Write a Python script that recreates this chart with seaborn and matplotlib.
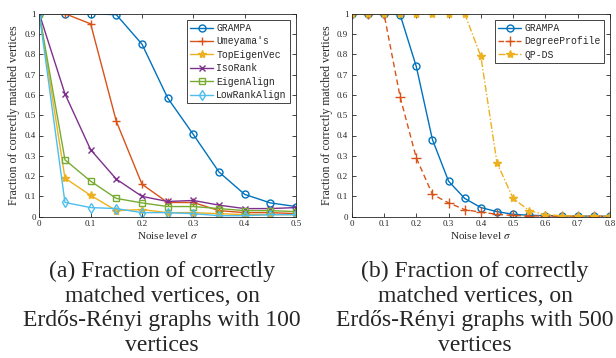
import numpy as np
import pandas as pd
import matplotlib
matplotlib.use("Agg")
import matplotlib.pyplot as plt
import seaborn as sns

# ---------------- data ----------------
x_a = [0, 0.05, 0.1, 0.15, 0.2, 0.25, 0.3, 0.35, 0.4, 0.45, 0.5]
grampa_a = [1, 1, 1, 0.995, 0.85, 0.585, 0.405, 0.22, 0.11, 0.068, 0.05]
umeyama_a = [1, 1, 0.95, 0.47, 0.16, 0.07, 0.07, 0.03, 0.02, 0.02, 0.015]
topeig_a = [1, 0.19, 0.105, 0.03, 0.035, 0.02, 0.02, 0.015, 0.01, 0.01, 0.01]
isorank_a = [1, 0.605, 0.33, 0.185, 0.1, 0.075, 0.08, 0.057, 0.04, 0.04, 0.045]
eigalign_a = [1, 0.28, 0.175, 0.09, 0.068, 0.05, 0.05, 0.04, 0.03, 0.03, 0.025]
lowrank_a = [1, 0.07, 0.045, 0.04, 0.02, 0.02, 0.015, 0.005, 0.005, 0.01, 0.01]

x_b = [0, 0.05, 0.1, 0.15, 0.2, 0.25, 0.3, 0.35, 0.4, 0.45, 0.5, 0.55, 0.6, 0.65, 0.7, 0.75, 0.8]
grampa_b = [1, 1, 1, 0.995, 0.74, 0.38, 0.175, 0.09, 0.045, 0.025, 0.012, 0.007, 0.005, 0.004, 0.003, 0.003, 0.002]
degprof_b = [1, 1, 1, 0.59, 0.29, 0.11, 0.068, 0.035, 0.022, 0.012, 0.006, 0.004, 0.003, 0.002, 0.002, 0.002, 0.002]
qpds_b = [1, 1, 1, 1, 1, 1, 1, 1, 0.79, 0.265, 0.09, 0.03, 0.01, 0.005, 0.004, 0.003, 0.003]

yticks = [0, 0.1, 0.2, 0.3, 0.4, 0.5, 0.6, 0.7, 0.8, 0.9, 1]
ytick_labels = ["0", "0.1", "0.2", "0.3", "0.4", "0.5", "0.6", "0.7", "0.8", "0.9", "1"]
xticks_a = [0, 0.1, 0.2, 0.3, 0.4, 0.5]
xticks_b = [0, 0.1, 0.2, 0.3, 0.4, 0.5, 0.6, 0.7, 0.8]

caption_a = "(a) Fraction of correctly\nmatched vertices, on\nErdős-Rényi graphs with 100\nvertices"
caption_b = "(b) Fraction of correctly\nmatched vertices, on\nErdős-Rényi graphs with 500\nvertices"

# ---------------- style ----------------
sns.set_style("ticks")
plt.rcParams["font.family"] = ["Liberation Serif", "DejaVu Serif"]
plt.rcParams["mathtext.fontset"] = "stix"

C = ["#0072BD", "#D95319", "#EDB120", "#7E2F8E", "#77AC30", "#4DBEEE"]
axcol = "#262626"

fig = plt.figure(figsize=(6.16, 3.58), dpi=100)
ax1 = fig.add_axes([39.3 / 616, 1 - 216.7 / 358, (296 - 39.3) / 616, (216.7 - 13.7) / 358])
ax2 = fig.add_axes([351.7 / 616, 1 - 216.7 / 358, (610 - 351.7) / 616, (216.7 - 13.7) / 358])

ms = 5
lw = 1.0

def draw(ax, x, y, label, color, marker, ls="-", hollow=False, msize=ms):
    kw = dict(color=color, marker=marker, markersize=msize, linewidth=lw, linestyle=ls,
              markeredgewidth=1.0, markeredgecolor=color)
    if hollow:
        kw["markerfacecolor"] = "none"
    else:
        kw["markerfacecolor"] = color
    sns.lineplot(x=x, y=y, ax=ax, label=label, **kw)

draw(ax1, x_a, grampa_a, "GRAMPA", C[0], "o", hollow=True)
draw(ax1, x_a, umeyama_a, "Umeyama's", C[1], "+", msize=6)
draw(ax1, x_a, topeig_a, "TopEigenVec", C[2], "*", msize=6)
draw(ax1, x_a, isorank_a, "IsoRank", C[3], "x", msize=4.5)
draw(ax1, x_a, eigalign_a, "EigenAlign", C[4], "s", hollow=True, msize=4.5)
draw(ax1, x_a, lowrank_a, "LowRankAlign", C[5], "d", hollow=True, msize=5.5)

draw(ax2, x_b, grampa_b, "GRAMPA", C[0], "o", hollow=True)
draw(ax2, x_b, degprof_b, "DegreeProfile", C[1], "+", ls=(0, (4, 2.5)), msize=7)
draw(ax2, x_b, qpds_b, "QP-DS", C[2], "*", ls=(0, (5, 1.5, 1, 1.5)), msize=6)

for ax, xt, xmax in [(ax1, xticks_a, 0.5), (ax2, xticks_b, 0.8)]:
    ax.set_xlim(0, xmax)
    ax.set_ylim(0, 1)
    ax.set_xticks(xt)
    ax.set_xticklabels([("%g" % v) for v in xt])
    ax.set_yticks(yticks)
    ax.set_yticklabels(ytick_labels)
    ax.tick_params(direction="in", top=True, right=True, length=3, width=0.6,
                   labelsize=6.5, colors=axcol, pad=2.5)
    for s in ax.spines.values():
        s.set_visible(True)
        s.set_linewidth(0.6)
        s.set_color(axcol)
    ax.set_xlabel(r"Noise level $\sigma$", fontsize=8, color=axcol, labelpad=1)
    ax.set_ylabel("Fraction of correctly matched vertices", fontsize=8.5, color=axcol, labelpad=3)
    leg = ax.legend(loc="upper right", prop={"family": "Liberation Mono", "size": 7},
                    frameon=True, fancybox=False, edgecolor=axcol, framealpha=1,
                    handlelength=2.4, handletextpad=0.3, borderpad=0.35, labelspacing=0.35,
                    borderaxespad=0.6)
    leg.get_frame().set_linewidth(0.6)

fig.text(162 / 616, 1 - 261 / 358, caption_a, ha="center", va="top", fontsize=17,
         linespacing=1.22, family=["Liberation Serif", "DejaVu Serif"])
fig.text(475 / 616, 1 - 261 / 358, caption_b, ha="center", va="top", fontsize=17,
         linespacing=1.22, family=["Liberation Serif", "DejaVu Serif"])

fig.savefig("out.png", dpi=100)
